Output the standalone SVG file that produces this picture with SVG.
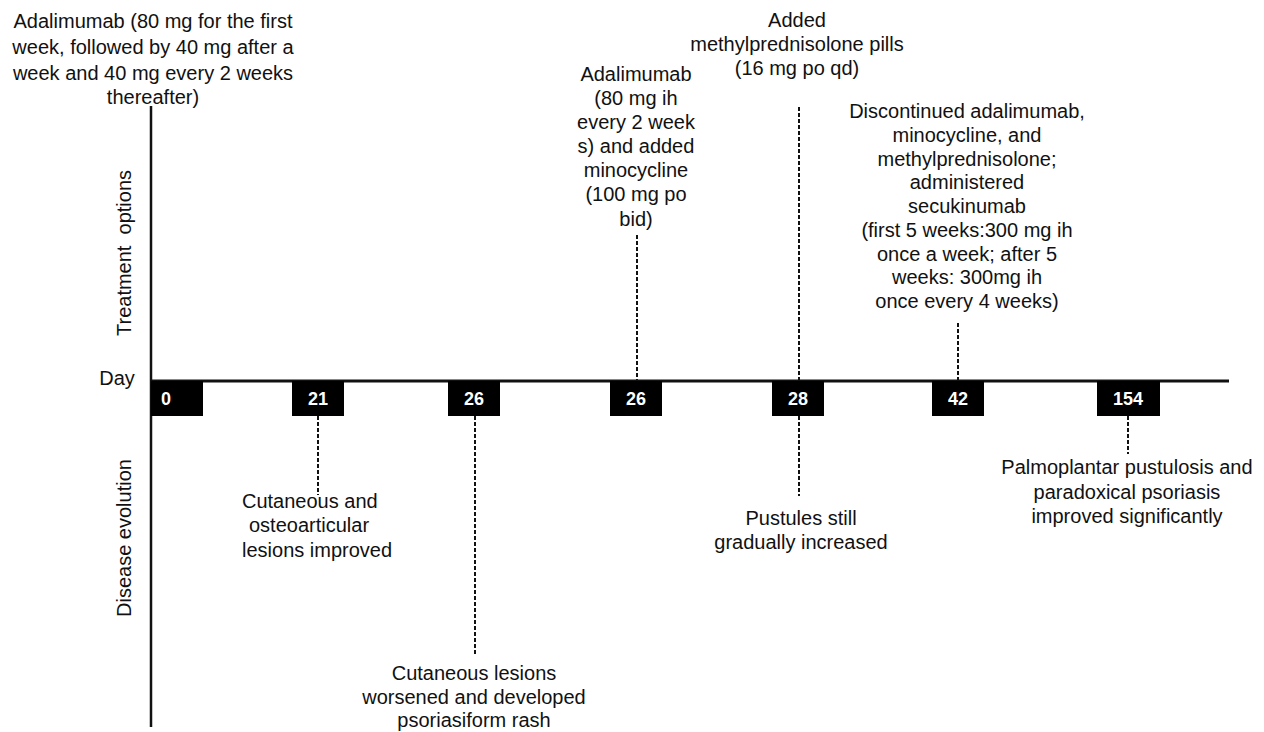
<svg xmlns="http://www.w3.org/2000/svg" width="1264" height="732" viewBox="0 0 1264 732">
<style>
text{font-family:"Liberation Sans",Arial,sans-serif;fill:#111;font-size:20px}
.c{text-anchor:middle}
.num{fill:#fff;font-size:18px;font-weight:bold;text-anchor:middle}
.axis{stroke:#111;fill:none}
.dash{stroke:#111;stroke-width:2;stroke-dasharray:4 2;fill:none}
.box{fill:#000}
</style>
<rect width="1264" height="732" fill="#fff"/>
<g id="axes">
<line class="axis" x1="151" y1="106" x2="151" y2="727" stroke-width="2.5"/>
<line class="axis" x1="151" y1="381" x2="1229" y2="381" stroke-width="3"/>
<text class="c" x="117" y="385">Day</text>
<text class="c" transform="translate(131 253) rotate(-90)" style="white-space:pre">Treatment  options</text>
<text class="c" transform="translate(131 538) rotate(-90)">Disease evolution</text>
</g>
<g id="connectors">
<line class="dash" x1="318" y1="416" x2="318" y2="495"/>
<line class="dash" x1="475" y1="416" x2="475" y2="655"/>
<line class="dash" x1="637" y1="235" x2="637" y2="381"/>
<line class="dash" x1="799" y1="107" x2="799" y2="381"/>
<line class="dash" x1="799" y1="416" x2="799" y2="496"/>
<line class="dash" x1="958" y1="323" x2="958" y2="381"/>
<line class="dash" x1="1128" y1="416" x2="1128" y2="454"/>
</g>
<g id="day0"><rect class="box" x="151" y="381" width="52" height="35"/><text class="num" x="166" y="405">0</text></g>
<g id="day21"><rect class="box" x="292" y="381" width="52" height="35"/><text class="num" x="318" y="405">21</text></g>
<g id="day26a"><rect class="box" x="448" y="381" width="52" height="35"/><text class="num" x="474" y="405">26</text></g>
<g id="day26b"><rect class="box" x="610" y="381" width="52" height="35"/><text class="num" x="636" y="405">26</text></g>
<g id="day28"><rect class="box" x="772" y="381" width="52" height="35"/><text class="num" x="798" y="405">28</text></g>
<g id="day42"><rect class="box" x="932" y="381" width="52" height="35"/><text class="num" x="958" y="405">42</text></g>
<g id="day154"><rect class="box" x="1097" y="381" width="63" height="35"/><text class="num" x="1128" y="405">154</text></g>
<g id="t0">
<text class="c" x="153" y="28">Adalimumab (80 mg for the first</text>
<text class="c" x="153" y="54">week, followed by 40 mg after a</text>
<text class="c" x="153" y="80">week and 40 mg every 2 weeks</text>
<text class="c" x="153" y="104">thereafter)</text>
</g>
<g id="t26">
<text class="c" x="636" y="81">Adalimumab</text>
<text class="c" x="636" y="105">(80 mg ih</text>
<text class="c" x="636" y="129">every 2 week</text>
<text class="c" x="636" y="153">s) and added</text>
<text class="c" x="636" y="177">minocycline</text>
<text class="c" x="636" y="201">(100 mg po</text>
<text class="c" x="636" y="226">bid)</text>
</g>
<g id="t28">
<text class="c" x="797" y="27">Added</text>
<text class="c" x="797" y="51">methylprednisolone pills</text>
<text class="c" x="797" y="75">(16 mg po qd)</text>
</g>
<g id="t42">
<text class="c" x="967" y="118">Discontinued adalimumab,</text>
<text class="c" x="967" y="141.75">minocycline, and</text>
<text class="c" x="967" y="165.5">methylprednisolone;</text>
<text class="c" x="967" y="189.25">administered</text>
<text class="c" x="967" y="213">secukinumab</text>
<text class="c" x="967" y="236.75">(first 5 weeks:300 mg ih</text>
<text class="c" x="967" y="260.5">once a week; after 5</text>
<text class="c" x="967" y="284.25">weeks: 300mg ih</text>
<text class="c" x="967" y="308">once every 4 weeks)</text>
</g>
<g id="e21">
<text x="242" y="508">Cutaneous and</text>
<text x="249" y="532">osteoarticular</text>
<text x="242" y="557">lesions improved</text>
</g>
<g id="e26">
<text class="c" x="474" y="680">Cutaneous lesions</text>
<text class="c" x="474" y="704">worsened and developed</text>
<text class="c" x="474" y="727">psoriasiform rash</text>
</g>
<g id="e28">
<text class="c" x="801" y="525">Pustules still</text>
<text class="c" x="801" y="549">gradually increased</text>
</g>
<g id="e154">
<text class="c" x="1127" y="474">Palmoplantar pustulosis and</text>
<text class="c" x="1127" y="499">paradoxical psoriasis</text>
<text class="c" x="1127" y="523">improved significantly</text>
</g>
</svg>
